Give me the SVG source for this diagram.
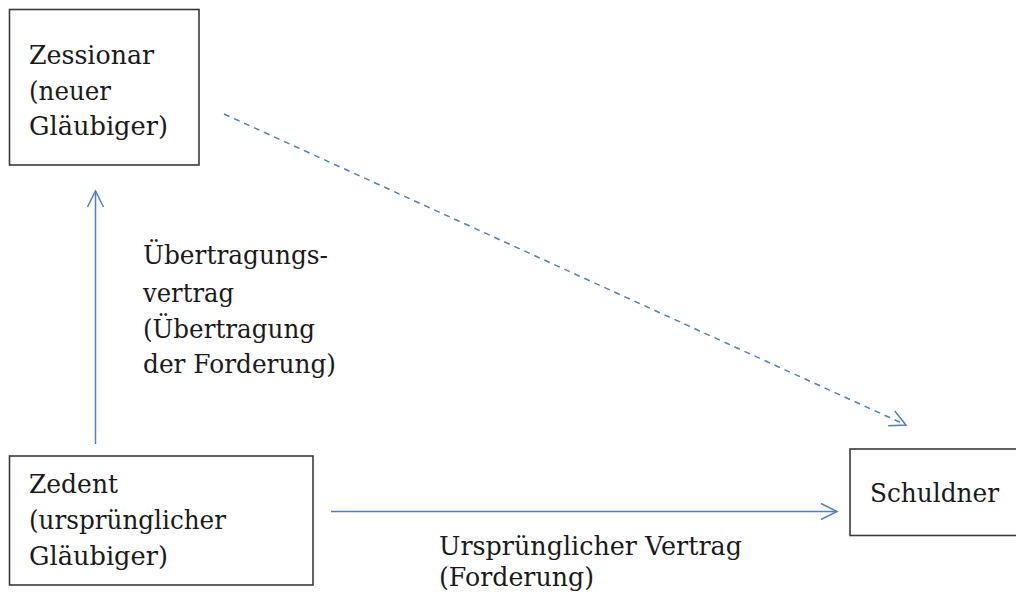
<svg xmlns="http://www.w3.org/2000/svg" width="1016" height="597" viewBox="0 0 1016 597">
  <style>
    .box { fill: #ffffff; stroke: #3a3a3a; stroke-width: 1.6; }
    .lbl { font-family: 'DejaVu Serif', serif; font-size: 26px; fill: #1a1a1a; }
    .conn { fill: none; stroke: #4f81bd; stroke-width: 1.5; }
    .dash { stroke-dasharray: 6 5; }
  </style>
  <defs>
    <marker id="open" viewBox="0 0 20 20" refX="18" refY="10" markerWidth="20" markerHeight="20" markerUnits="userSpaceOnUse" orient="auto">
      <path d="M2,2 L18,10 L2,18" fill="none" stroke="#4f81bd" stroke-width="1.5"/>
    </marker>
  </defs>
  <rect width="1016" height="597" fill="#ffffff"/>

  <g id="connectors">
    <line class="conn" x1="95.5" y1="444" x2="95.5" y2="191" marker-end="url(#open)"/>
    <line class="conn" x1="331" y1="511.5" x2="837" y2="511.5" marker-end="url(#open)"/>
    <line class="conn dash" x1="224" y1="114" x2="906" y2="425" marker-end="url(#open)"/>
  </g>

  <g id="zessionar">
    <rect class="box" x="9.5" y="9.5" width="189.5" height="155.5"/>
    <text class="lbl" x="29" y="64" textLength="125" lengthAdjust="spacingAndGlyphs">Zessionar</text>
    <text class="lbl" x="29" y="100" textLength="82" lengthAdjust="spacingAndGlyphs">(neuer</text>
    <text class="lbl" x="29" y="135" textLength="139" lengthAdjust="spacingAndGlyphs">Gläubiger)</text>
  </g>

  <g id="zedent">
    <rect class="box" x="9.5" y="456" width="303.5" height="129"/>
    <text class="lbl" x="29" y="493" textLength="89" lengthAdjust="spacingAndGlyphs">Zedent</text>
    <text class="lbl" x="29" y="529" textLength="197" lengthAdjust="spacingAndGlyphs">(ursprünglicher</text>
    <text class="lbl" x="29" y="565" textLength="139" lengthAdjust="spacingAndGlyphs">Gläubiger)</text>
  </g>

  <g id="schuldner">
    <rect class="box" x="850" y="449" width="180" height="86.5"/>
    <text class="lbl" x="870" y="502" textLength="129" lengthAdjust="spacingAndGlyphs">Schuldner</text>
  </g>

  <g id="label-uebertragung">
    <text class="lbl" x="143" y="264" textLength="185" lengthAdjust="spacingAndGlyphs">Übertragungs-</text>
    <text class="lbl" x="143" y="302" textLength="91" lengthAdjust="spacingAndGlyphs">vertrag</text>
    <text class="lbl" x="143" y="338" textLength="172" lengthAdjust="spacingAndGlyphs">(Übertragung</text>
    <text class="lbl" x="143" y="373" textLength="193" lengthAdjust="spacingAndGlyphs">der Forderung)</text>
  </g>

  <g id="label-vertrag">
    <text class="lbl" x="439" y="555" textLength="303" lengthAdjust="spacingAndGlyphs">Ursprünglicher Vertrag</text>
    <text class="lbl" x="439" y="586" textLength="155" lengthAdjust="spacingAndGlyphs">(Forderung)</text>
  </g>
</svg>
